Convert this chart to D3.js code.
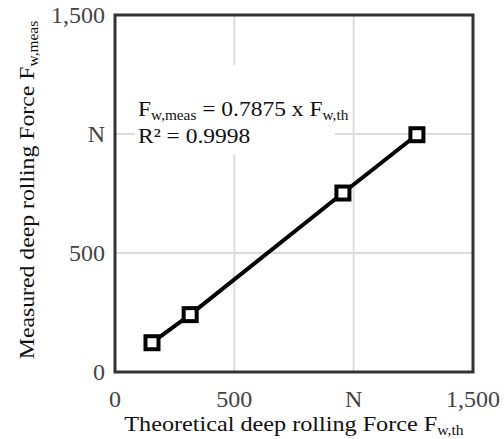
<!DOCTYPE html>
<html>
<head>
<meta charset="utf-8">
<script src="https://cdn.jsdelivr.net/npm/d3@7"></script>
<style>
  body { margin: 0; background: #fff; }
  text { font-family: "Liberation Serif", "DejaVu Serif", serif; }
</style>
</head>
<body>
<div id="container"></div>
<script>
// values
const xTheoretical = [155, 315, 955, 1265];
const yMeasured = [123, 241, 752, 997];
const tickValues = [0, 500, 1000, 1500];
const tickLabels = ['0', '500', 'N', '1,500'];
const slope = 0.7875;
const rSquared = 0.9998;

const width = 504, height = 439;
const margin = {top: 15, right: 31, bottom: 67, left: 115};

const data = xTheoretical.map((x, i) => ({x: x, y: yMeasured[i]}));

const svg = d3.select('#container')
  .append('svg')
  .attr('width', width)
  .attr('height', height);

const xScale = d3.scaleLinear().domain([0, 1500]).range([margin.left, width - margin.right]);
const yScale = d3.scaleLinear().domain([0, 1500]).range([height - margin.bottom, margin.top]);

// 1. gridlines
const grid = svg.append('g');
grid.selectAll('.vgrid')
  .data(tickValues.slice(1, -1))
  .enter()
  .append('line')
  .attr('x1', d => xScale(d)).attr('x2', d => xScale(d))
  .attr('y1', yScale(1500)).attr('y2', yScale(0))
  .attr('stroke', '#dcdcdc')
  .attr('stroke-width', 2);
grid.selectAll('.hgrid')
  .data(tickValues.slice(1, -1))
  .enter()
  .append('line')
  .attr('x1', xScale(0)).attr('x2', xScale(1500))
  .attr('y1', d => yScale(d)).attr('y2', d => yScale(d))
  .attr('stroke', '#dcdcdc')
  .attr('stroke-width', 2);

// 2. white box behind the equation
svg.append('rect')
  .attr('x', 135).attr('y', 65)
  .attr('width', 200).attr('height', 90)
  .attr('fill', '#fff');

// 3. line and squares
const line = d3.line().x(d => xScale(d.x)).y(d => yScale(d.y));
svg.append('path')
  .datum(data)
  .attr('fill', 'none')
  .attr('stroke', '#000')
  .attr('stroke-width', 4)
  .attr('d', line);

svg.selectAll('.pt')
  .data(data)
  .enter()
  .append('rect')
  .attr('x', d => xScale(d.x) - 6.5)
  .attr('y', d => yScale(d.y) - 6.5)
  .attr('width', 13).attr('height', 13)
  .attr('fill', '#fff')
  .attr('stroke', '#000')
  .attr('stroke-width', 4);

// 4. frame
svg.append('rect')
  .attr('x', xScale(0)).attr('y', yScale(1500))
  .attr('width', xScale(1500) - xScale(0))
  .attr('height', yScale(0) - yScale(1500))
  .attr('fill', 'none')
  .attr('stroke', '#333')
  .attr('stroke-width', 3);

// 5. tick labels
svg.selectAll('.ylab')
  .data(tickValues)
  .enter()
  .append('text')
  .attr('x', margin.left - 10)
  .attr('y', d => yScale(d))
  .attr('dy', '0.35em')
  .attr('text-anchor', 'end')
  .attr('font-size', 24)
  .attr('fill', '#444')
  .text((d, i) => tickLabels[i]);

svg.selectAll('.xlab')
  .data(tickValues)
  .enter()
  .append('text')
  .attr('x', d => xScale(d))
  .attr('y', 407)
  .attr('text-anchor', 'middle')
  .attr('font-size', 24)
  .attr('fill', '#444')
  .text((d, i) => tickLabels[i]);

// 6. axis titles (the source text is a little stretched sideways)
function subText(sel, main, sub, after) {
  sel.append('tspan').text(main);
  sel.append('tspan').attr('font-size', '0.65em').attr('dy', 4).text(sub);
  if (after) sel.append('tspan').attr('dy', -4).text(after);
}

const xTitle = svg.append('text')
  .attr('transform', 'translate(294,431) scale(1.1,1)')
  .attr('text-anchor', 'middle')
  .attr('font-size', 22)
  .attr('fill', '#111');
subText(xTitle, 'Theoretical deep rolling Force F', 'w,th');

const yTitle = svg.append('text')
  .attr('transform', 'translate(34,190) rotate(-90) scale(1.08,1)')
  .attr('text-anchor', 'middle')
  .attr('font-size', 22)
  .attr('fill', '#111');
subText(yTitle, 'Measured deep rolling Force F', 'w,meas');

// 7. equation
const eq = svg.append('text')
  .attr('transform', 'translate(138,116) scale(1.12,1)')
  .attr('font-size', 21)
  .attr('fill', '#111');
subText(eq, 'F', 'w,meas', ` = ${slope} x F`);
eq.append('tspan').attr('font-size', '0.65em').attr('dy', 4).text('w,th');

svg.append('text')
  .attr('transform', 'translate(138,143) scale(1.12,1)')
  .attr('font-size', 21)
  .attr('fill', '#111')
  .text(`R² = ${rSquared}`);
</script>
</body>
</html>
